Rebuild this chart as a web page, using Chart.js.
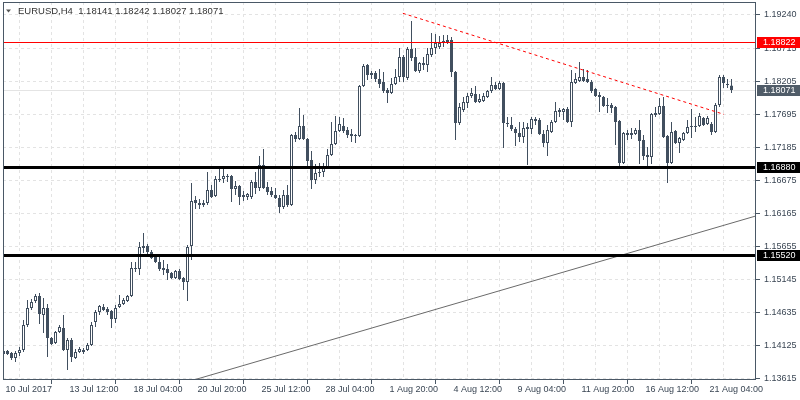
<!DOCTYPE html>
<html><head><meta charset="utf-8">
<script src="https://cdn.jsdelivr.net/npm/chart.js@4.4.0/dist/chart.umd.min.js"></script>
<style>html,body{margin:0;padding:0;background:#fff;}canvas{display:block;}</style>
</head><body>
<canvas id="c" width="800" height="400"></canvas>
<script>
const titleText = 'EURUSD,H4  1.18141 1.18242 1.18027 1.18071';

const opens = [
1.13987,1.14033,1.14002,1.13925,1.14002,1.14049,1.14436,1.14699,1.14807,1.14884,
1.14590,1.14699,1.14234,1.14157,1.14327,1.14389,1.14049,1.14203,1.13925,1.14018,
1.14049,1.14049,1.14126,1.14482,1.14637,1.14714,1.14683,1.14652,1.14528,1.14714,
1.14760,1.14807,1.14884,1.15318,1.15302,1.15658,1.15658,1.15565,1.15488,1.15410,
1.15318,1.15302,1.15240,1.15163,1.15271,1.15163,1.15101,1.15658,1.16370,1.16323,
1.16292,1.16323,1.16525,1.16432,1.16695,1.16695,1.16741,1.16741,1.16540,1.16587,
1.16447,1.16416,1.16416,1.16648,1.16556,1.16911,1.16571,1.16509,1.16447,1.16401,
1.16261,1.16447,1.16292,1.17376,1.17314,1.17515,1.17314,1.16989,1.16679,1.16803,
1.16803,1.16880,1.17066,1.17237,1.17438,1.17515,1.17453,1.17391,1.17376,1.17360,
1.18134,1.18459,1.18304,1.18335,1.18242,1.18196,1.18072,1.18026,1.18165,1.18273,
1.18583,1.18258,1.18707,1.18583,1.18366,1.18490,1.18459,1.18614,1.18722,1.18738,
1.18800,1.18815,1.18846,1.18351,1.17562,1.17763,1.17871,1.17979,1.18010,1.17886,
1.17902,1.17964,1.18057,1.18150,1.18088,1.18181,1.17562,1.17531,1.17469,1.17407,
1.17345,1.17500,1.17469,1.17593,1.17608,1.17391,1.17252,1.17422,1.17577,1.17732,
1.17732,1.17778,1.17577,1.18181,1.18212,1.18273,1.18242,1.18196,1.18088,1.17995,
1.17964,1.17840,1.17840,1.17809,1.17593,1.16942,1.17376,1.17407,1.17391,1.17453,
1.17299,1.17066,1.17035,1.17716,1.17701,1.17825,1.17360,1.16942,1.17438,1.17252,
1.17299,1.17407,1.17500,1.17500,1.17515,1.17639,1.17546,1.17546,1.17422,1.17840,
1.18273,1.18165,1.18141
];
const highs = [
1.14095,1.14049,1.14018,1.14033,1.14095,1.14513,1.14822,1.14838,1.14915,1.14931,
1.14853,1.14760,1.14250,1.14343,1.14436,1.14590,1.14234,1.14234,1.14064,1.14095,
1.14080,1.14157,1.14482,1.14668,1.14745,1.14760,1.14714,1.14668,1.14745,1.14900,
1.14853,1.14900,1.15410,1.15410,1.15720,1.15859,1.15689,1.15596,1.15519,1.15534,
1.15441,1.15379,1.15256,1.15287,1.15302,1.15178,1.15674,1.16633,1.16432,1.16385,
1.16370,1.16803,1.16602,1.16741,1.16849,1.16865,1.16772,1.16757,1.16664,1.16602,
1.16509,1.16478,1.16679,1.16803,1.17051,1.17159,1.16648,1.16571,1.16556,1.16447,
1.16525,1.16602,1.17391,1.17422,1.17794,1.17685,1.17330,1.17128,1.16927,1.16942,
1.16942,1.17159,1.17577,1.17670,1.17654,1.17639,1.17500,1.17469,1.17391,1.18150,
1.18475,1.18475,1.18366,1.18366,1.18397,1.18351,1.18103,1.18258,1.18397,1.18722,
1.18614,1.18738,1.19140,1.18722,1.18506,1.18583,1.18722,1.18954,1.18939,1.18908,
1.18923,1.18923,1.18892,1.18366,1.17871,1.17964,1.18026,1.18103,1.18134,1.18010,
1.18026,1.18072,1.18273,1.18196,1.18212,1.18196,1.17654,1.17654,1.17500,1.17577,
1.17577,1.17562,1.17654,1.17654,1.17639,1.17453,1.17531,1.17608,1.17886,1.17794,
1.17794,1.17809,1.18382,1.18335,1.18506,1.18397,1.18382,1.18227,1.18103,1.18041,
1.17979,1.17948,1.17871,1.17825,1.17608,1.17422,1.17453,1.17484,1.17484,1.17608,
1.17376,1.17190,1.17716,1.17809,1.17948,1.17964,1.17376,1.17577,1.17453,1.17345,
1.17422,1.17608,1.17778,1.17654,1.17716,1.17654,1.17670,1.17577,1.17871,1.18304,
1.18304,1.18242,1.18242
];
const lows = [
1.13956,1.13971,1.13894,1.13863,1.13956,1.14018,1.14405,1.14668,1.14776,1.14451,
1.14312,1.13940,1.14126,1.14142,1.14312,1.14033,1.13739,1.13863,1.13910,1.14002,
1.13987,1.14033,1.14111,1.14405,1.14590,1.14652,1.14590,1.14389,1.14467,1.14699,
1.14745,1.14791,1.14869,1.15256,1.15209,1.15550,1.15534,1.15457,1.15395,1.15271,
1.15209,1.15132,1.15147,1.15147,1.15132,1.14977,1.14807,1.15441,1.16230,1.16230,
1.16261,1.16292,1.16401,1.16416,1.16648,1.16633,1.16648,1.16339,1.16447,1.16292,
1.16354,1.16370,1.16385,1.16463,1.16509,1.16540,1.16447,1.16416,1.16385,1.16169,
1.16230,1.16261,1.16277,1.17268,1.17299,1.17299,1.16896,1.16540,1.16618,1.16726,
1.16726,1.16865,1.17051,1.17221,1.17422,1.17407,1.17330,1.17268,1.17252,1.17345,
1.18119,1.18227,1.18242,1.18196,1.18103,1.18026,1.17871,1.18010,1.18150,1.18196,
1.18196,1.18227,1.18521,1.18351,1.18335,1.18382,1.18351,1.18583,1.18629,1.18707,
1.18738,1.18784,1.18273,1.17299,1.17531,1.17732,1.17794,1.17948,1.17871,1.17871,
1.17886,1.17948,1.18026,1.18072,1.18072,1.17175,1.17500,1.17438,1.17206,1.17268,
1.17252,1.16911,1.17391,1.17531,1.17376,1.17190,1.17051,1.17407,1.17562,1.17654,
1.17608,1.17562,1.17500,1.18165,1.18196,1.18196,1.18181,1.18026,1.17964,1.17732,
1.17809,1.17716,1.17716,1.17221,1.16880,1.16927,1.17299,1.17314,1.17376,1.16927,
1.16989,1.16849,1.16927,1.17654,1.17685,1.17330,1.16633,1.16927,1.17237,1.17097,
1.17283,1.17391,1.17330,1.17422,1.17500,1.17515,1.17531,1.17376,1.17407,1.17809,
1.18103,1.18103,1.18027
];
const closes = [
1.14033,1.13987,1.13925,1.14002,1.14049,1.14436,1.14699,1.14791,1.14884,1.14606,
1.14699,1.14234,1.14142,1.14327,1.14405,1.14049,1.14203,1.13940,1.14018,1.14064,
1.14018,1.14126,1.14436,1.14637,1.14730,1.14668,1.14637,1.14528,1.14699,1.14760,
1.14822,1.14884,1.15318,1.15302,1.15643,1.15627,1.15565,1.15473,1.15410,1.15302,
1.15287,1.15240,1.15163,1.15271,1.15147,1.15101,1.15643,1.16354,1.16323,1.16292,
1.16323,1.16525,1.16416,1.16695,1.16679,1.16741,1.16726,1.16540,1.16587,1.16416,
1.16416,1.16463,1.16648,1.16556,1.16911,1.16556,1.16494,1.16447,1.16401,1.16261,
1.16447,1.16292,1.17376,1.17314,1.17515,1.17314,1.16973,1.16679,1.16788,1.16788,
1.16880,1.17066,1.17237,1.17438,1.17546,1.17438,1.17376,1.17360,1.17360,1.18134,
1.18444,1.18304,1.18335,1.18242,1.18165,1.18057,1.18026,1.18165,1.18273,1.18583,
1.18273,1.18707,1.18567,1.18366,1.18490,1.18459,1.18629,1.18722,1.18800,1.18800,
1.18831,1.18846,1.18351,1.17562,1.17809,1.17886,1.17979,1.18026,1.17886,1.17933,
1.17979,1.18057,1.18150,1.18088,1.18181,1.17562,1.17546,1.17469,1.17407,1.17345,
1.17484,1.17469,1.17623,1.17623,1.17391,1.17252,1.17453,1.17577,1.17747,1.17763,
1.17778,1.17577,1.18196,1.18242,1.18273,1.18212,1.18196,1.18057,1.17979,1.17964,
1.17825,1.17825,1.17794,1.17577,1.16942,1.17407,1.17407,1.17376,1.17453,1.17283,
1.17051,1.17035,1.17701,1.17685,1.17825,1.17345,1.16942,1.17422,1.17252,1.17330,
1.17407,1.17500,1.17515,1.17515,1.17670,1.17531,1.17639,1.17422,1.17840,1.18273,
1.18181,1.18150,1.18071
];

const xTickLabels = ['10 Jul 2017','13 Jul 12:00','18 Jul 04:00','20 Jul 20:00','25 Jul 12:00','28 Jul 04:00','1 Aug 20:00','4 Aug 12:00','9 Aug 04:00','11 Aug 20:00','16 Aug 12:00','21 Aug 04:00'];
const xLabelBars = [0,16,32,48,64,80,96,112,128,144,160,176];
const xGridBars = [0,8,16,24,32,40,48,56,64,72,80,88,96,104,112,120,128,136,144,152,160,168,176,184];
const yTickValues = [1.19240,1.18715,1.18205,1.17695,1.17185,1.16675,1.16165,1.15655,1.15145,1.14635,1.14125,1.13615];

const resistanceLevel = 1.18822;
const supportLevels = [1.16880, 1.15520];
const bidPrice = 1.18071;
const downTrendBars = [99.84, 180.1];
const downTrendPrices = [1.19259, 1.17696];
const upTrendBars = [40, 195];
const upTrendPrices = [1.13449, 1.16248];

const candleColor = '#414f5f';
const axisColor = '#4a5866';
const textColor = '#3a4654';
const fontFamily = "'Liberation Sans', Arial, sans-serif";

const wicks = opens.map((o, i) => ({x: i, y: [lows[i], highs[i]]}));
const bodies = opens.map((o, i) => ({x: i, y: [o, closes[i]]}));
const pts = (bars, prices) => bars.map((b, i) => ({x: b, y: prices[i]}));

function hLevel(chart, value, color, width) {
  const ctx = chart.ctx, a = chart.chartArea, ys = chart.scales.y;
  let y = Math.round(ys.getPixelForValue(value));
  if (width % 2 === 1) y += 0.5;
  ctx.save();
  ctx.strokeStyle = color; ctx.lineWidth = width;
  ctx.beginPath(); ctx.moveTo(a.left, y); ctx.lineTo(a.right, y); ctx.stroke();
  ctx.restore();
}

const levelsPlugin = {
  id: 'levels',
  beforeDatasetsDraw(chart) { hLevel(chart, bidPrice, '#e4e4e4', 1); },
  afterDatasetsDraw(chart) {
    hLevel(chart, resistanceLevel, '#ff0000', 1);
    supportLevels.forEach(v => hLevel(chart, v, '#000000', 3));
  }
};

const overlayPlugin = {
  id: 'overlay',
  afterDraw(chart) {
    const ctx = chart.ctx, a = chart.chartArea, ys = chart.scales.y;
    ctx.save();
    ctx.strokeStyle = axisColor; ctx.lineWidth = 1;
    ctx.strokeRect(a.left + 0.5, a.top + 0.5, a.right - a.left - 1, a.bottom - a.top - 1);
    ctx.fillStyle = '#555';
    ctx.beginPath(); ctx.moveTo(6, 9.5); ctx.lineTo(11, 9.5); ctx.lineTo(8.5, 12.5); ctx.closePath(); ctx.fill();
    ctx.fillStyle = '#333';
    ctx.font = '9.5px ' + fontFamily;
    ctx.textBaseline = 'middle'; ctx.textAlign = 'left';
    ctx.fillText(titleText, 18, 11.5);
    const tags = [
      {v: resistanceLevel, bg: '#ff0000', fg: '#ffffff'},
      {v: bidPrice, bg: '#505c68', fg: '#ffffff'},
      {v: supportLevels[0], bg: '#000000', fg: '#ffffff'},
      {v: supportLevels[1], bg: '#000000', fg: '#ffffff'}
    ];
    ctx.font = '9px ' + fontFamily;
    tags.forEach(t => {
      const y = Math.round(ys.getPixelForValue(t.v));
      ctx.fillStyle = t.bg; ctx.fillRect(757, y - 5, 43, 11);
      ctx.fillStyle = t.fg; ctx.fillText(t.v.toFixed(5), 763, y + 0.5);
    });
    ctx.restore();
  }
};

const zeroPad = s => { s.paddingTop = 0; s.paddingBottom = 0; s.paddingLeft = 0; s.paddingRight = 0; };

new Chart(document.getElementById('c'), {
  type: 'bar',
  data: {
    datasets: [
      {type: 'line', data: pts(downTrendBars, downTrendPrices), borderColor: '#ff0000', borderWidth: 1, borderDash: [3, 3], pointRadius: 0, order: 0},
      {type: 'line', data: pts(upTrendBars, upTrendPrices), borderColor: '#6a6a6a', borderWidth: 1, pointRadius: 0, order: 0},
      {data: bodies, grouped: false, barThickness: 3, borderWidth: 1, borderSkipped: false, minBarLength: 1,
       inflateAmount: 0, borderColor: candleColor,
       backgroundColor: c => (closes[c.dataIndex] >= opens[c.dataIndex] ? '#ffffff' : candleColor), order: 2},
      {data: wicks, grouped: false, barThickness: 1, borderWidth: 0, inflateAmount: 0,
       backgroundColor: candleColor, order: 3}
    ]
  },
  options: {
    responsive: false, animation: false, devicePixelRatio: 1,
    layout: {padding: {left: 3, top: 2, right: 0, bottom: 0}},
    plugins: {legend: {display: false}, tooltip: {enabled: false}, title: {display: false}},
    scales: {
      x: {
        type: 'linear', min: -0.125, max: 188.125, offset: false,
        afterBuildTicks: s => { s.ticks = xGridBars.map(v => ({value: v})); },
        afterFit: s => { s.height = 20; zeroPad(s); },
        grid: {color: '#e3e3e3', lineWidth: 1, drawTicks: true, tickLength: 4, tickWidth: 1,
               tickBorderDash: [], tickColor: c => (c.index % 2 === 0 ? axisColor : 'rgba(0,0,0,0)')},
        border: {display: false, dash: [3, 3]},
        ticks: {
          autoSkip: false, maxRotation: 0, minRotation: 0, align: 'start', padding: 0, labelOffset: 2,
          color: textColor, font: {family: fontFamily, size: 9},
          callback: v => { const k = xLabelBars.indexOf(v); return k >= 0 ? xTickLabels[k] : ''; }
        }
      },
      y: {
        type: 'linear', position: 'right', min: 1.13585, max: 1.19434,
        afterBuildTicks: s => { s.ticks = yTickValues.map(v => ({value: v})); },
        afterFit: s => { s.width = 44; zeroPad(s); },
        grid: {color: '#e3e3e3', lineWidth: 1, drawTicks: true, tickLength: 4, tickWidth: 1,
               tickBorderDash: [], tickColor: axisColor},
        border: {display: false, dash: [3, 3]},
        ticks: {padding: 4, color: textColor, font: {family: fontFamily, size: 9},
                callback: v => Number(v).toFixed(5)}
      }
    }
  },
  plugins: [levelsPlugin, overlayPlugin]
});
</script>
</body></html>
